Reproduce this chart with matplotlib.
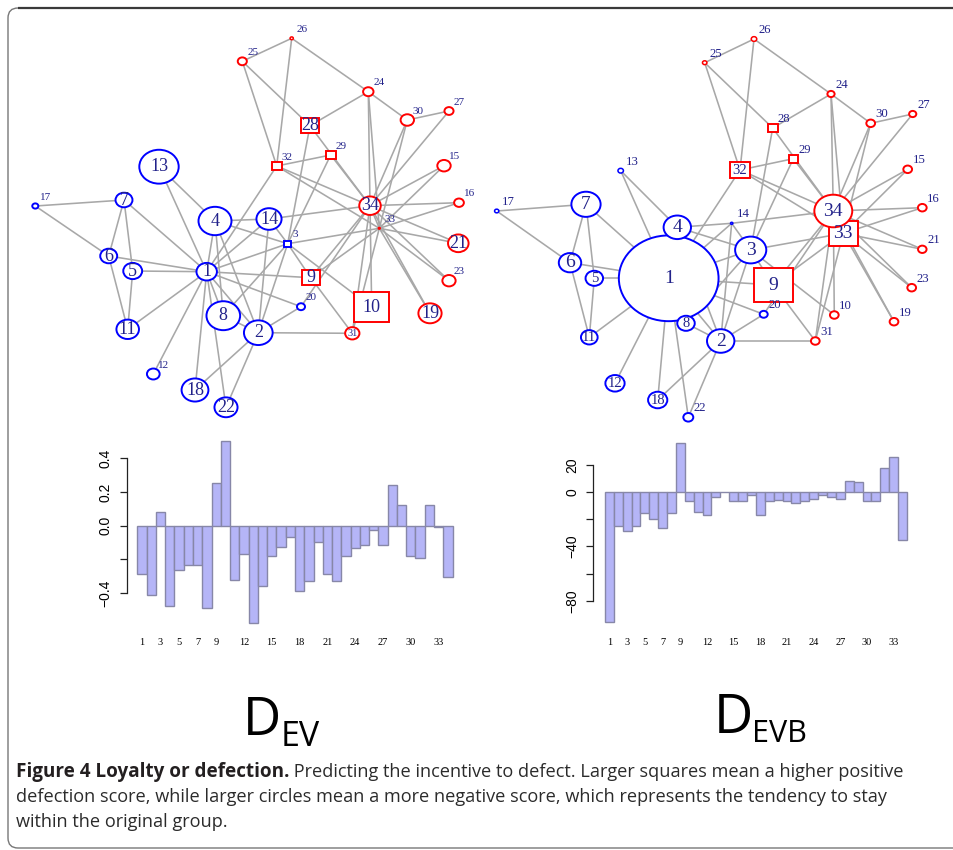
import matplotlib
matplotlib.use("Agg")
import matplotlib.pyplot as plt
from matplotlib.patches import Ellipse, Rectangle, FancyBboxPatch

# Zachary karate club, 34 members
nodes = list(range(1, 35))

edges = [(1, 2), (1, 3), (1, 4), (1, 5), (1, 6), (1, 7), (1, 8), (1, 9), (1, 11), (1, 12),
         (1, 13), (1, 14), (1, 18), (1, 20), (1, 22), (1, 32),
         (2, 3), (2, 4), (2, 8), (2, 14), (2, 18), (2, 20), (2, 22), (2, 31),
         (3, 4), (3, 8), (3, 9), (3, 10), (3, 14), (3, 28), (3, 29), (3, 33),
         (4, 8), (4, 13), (4, 14), (5, 7), (5, 11), (6, 7), (6, 11), (6, 17), (7, 17),
         (9, 31), (9, 33), (9, 34), (10, 34), (14, 34), (15, 33), (15, 34), (16, 33), (16, 34),
         (19, 33), (19, 34), (20, 34), (21, 33), (21, 34), (23, 33), (23, 34),
         (24, 26), (24, 28), (24, 30), (24, 33), (24, 34), (25, 26), (25, 28), (25, 32),
         (26, 32), (27, 30), (27, 34), (28, 34), (29, 32), (29, 34), (30, 33), (30, 34),
         (31, 33), (31, 34), (32, 33), (32, 34), (33, 34)]

original_group_1 = [1, 2, 3, 4, 5, 6, 7, 8, 11, 12, 13, 14, 17, 18, 20, 22]

# defection scores
d_ev = [-0.287, -0.412, 0.083, -0.477, -0.263, -0.234, -0.234, -0.487, 0.251, 0.499,
        -0.319, -0.170, -0.574, -0.358, -0.180, -0.125, -0.069, -0.384, -0.329, -0.099,
        -0.289, -0.327, -0.178, -0.135, -0.115, -0.026, -0.115, 0.242, 0.123, -0.180,
        -0.194, 0.123, -0.006, -0.303]

d_evb = [-95.8, -24.9, -28.6, -24.9, -15.2, -20.0, -26.7, -15.2, 36.2, -6.6,
         -14.4, -16.9, -3.4, -0.3, -6.6, -6.6, -2.2, -16.9, -6.6, -5.9,
         -6.4, -7.8, -6.6, -5.1, -2.4, -3.4, -5.1, 8.1, 7.3, -6.6,
         -6.6, 17.4, 25.9, -35.2]

# network layouts (as drawn in the figure)
layout_ev_x = [206.7, 258.3, 287.7, 215.0, 132.7, 108.7, 124.0, 223.3, 310.7, 371.7,
               127.7, 153.3, 159.0, 269.0, 444.0, 459.0, 35.3, 195.0, 430.0, 301.0,
               458.3, 226.0, 449.0, 368.3, 242.3, 291.7, 449.0, 310.0, 330.7, 407.3,
               352.3, 276.7, 379.3, 370.0]
layout_ev_y = [271.7, 332.7, 243.7, 221.0, 271.0, 256.0, 200.0, 315.7, 277.7, 307.3,
               329.3, 374.0, 166.7, 219.0, 165.7, 202.7, 206.0, 390.0, 313.3, 306.7,
               243.3, 407.3, 280.7, 91.7, 61.3, 38.3, 111.0, 125.7, 155.0, 120.0,
               333.3, 166.0, 228.3, 205.7]

layout_evb_x = [668.7, 720.7, 750.7, 677.3, 594.3, 570.0, 586.0, 686.0, 773.3, 834.3,
                589.3, 615.0, 620.7, 731.7, 907.7, 922.3, 496.7, 657.7, 894.0, 763.7,
                922.3, 688.3, 911.7, 831.0, 704.7, 754.0, 912.7, 772.7, 793.3, 870.7,
                815.3, 740.0, 843.3, 833.3]
layout_evb_y = [278.3, 341.0, 250.0, 227.3, 278.3, 262.7, 204.3, 323.3, 285.0, 315.0,
                337.3, 383.3, 170.7, 223.3, 169.3, 207.7, 211.0, 400.0, 321.7, 314.3,
                249.3, 417.3, 287.7, 94.0, 62.7, 39.0, 114.0, 128.0, 158.7, 123.3,
                341.0, 170.0, 233.3, 211.0]

bar_tick_labels = [1, 3, 5, 7, 9, 12, 15, 18, 21, 24, 27, 30, 33]

caption_bold = "Figure 4 Loyalty or defection."
caption_lines = [" Predicting the incentive to defect. Larger squares mean a higher positive",
                 "defection score, while larger circles mean a more negative score, which represents the tendency to stay",
                 "within the original group."]

W, H = 954, 850
fig = plt.figure(figsize=(W / 100, H / 100), dpi=100)
bg = fig.add_axes([0, 0, 1, 1])
bg.set_xlim(0, W)
bg.set_ylim(H, 0)
bg.axis("off")

# frame
bg.add_patch(FancyBboxPatch((8, 8), 1000, 840, boxstyle="round,pad=0,rounding_size=10",
                            fc="none", ec="#777777", lw=1.0))
bg.plot([18, W], [8, 8], color="#3a3a3a", lw=1.6, solid_capstyle="butt")

BLUE, RED = "#0000ff", "#ff0000"
LABEL = "#22228a"


def draw_network(xs, ys, scores, scale, pad, inside_min, big_min, big_fs, small_fs, off_fs):
    for a, b in edges:
        bg.plot([xs[a - 1], xs[b - 1]], [ys[a - 1], ys[b - 1]],
                color="#a8a8a8", lw=1.15, zorder=1, solid_capstyle="butt")
    for n, x, y, s in zip(nodes, xs, ys, scores):
        w = scale * abs(s) + pad
        h = 0.86 * w
        col = BLUE if n in original_group_1 else RED
        lw = 1.4 if w > 6 else 1.1
        if s > 0:
            p = Rectangle((x - w / 2, y - h / 2), w, h, fc="white", ec=col, lw=lw, zorder=2)
        else:
            p = Ellipse((x, y), w, h, fc="white", ec=col, lw=lw, zorder=2)
        bg.add_patch(p)
        if w >= inside_min:
            fs = big_fs if w >= big_min else small_fs
            bg.text(x, y, str(n), ha="center", va="center", fontsize=fs,
                    family="Liberation Serif", color=LABEL, zorder=3)
        else:
            bg.text(x + 5, y - 9, str(n), ha="left", va="center", fontsize=off_fs,
                    family="Liberation Serif", color=LABEL, zorder=3)


draw_network(layout_ev_x, layout_ev_y, d_ev, 66, 1.5, 14, 16, 13, 7.5, 8)
draw_network(layout_evb_x, layout_evb_y, d_evb, 1.02, 2, 15, 21, 14, 10.5, 9.2)


def px_axes(x0, y0, x1, y1):
    return fig.add_axes([x0 / W, 1 - y1 / H, (x1 - x0) / W, (y1 - y0) / H])


def draw_bars(ax, vals, xlim, ylim, yticks, ylabels):
    idx = list(range(1, len(vals) + 1))
    ax.bar(idx, vals, width=1.0, color="#b5b5f7", edgecolor="#8787a8", lw=1.0)
    ax.set_xlim(*xlim)
    ax.set_ylim(*ylim)
    for sp in ["top", "right", "bottom"]:
        ax.spines[sp].set_visible(False)
    ax.spines["left"].set_bounds(min(yticks), max(yticks))
    ax.spines["left"].set_linewidth(0.9)
    ax.spines["left"].set_color("#222222")
    ax.set_yticks(yticks)
    ax.set_yticklabels(ylabels, rotation=90, va="center", family="Liberation Sans", fontsize=10)
    ax.tick_params(axis="y", length=5, width=0.9, pad=5, color="#222222")
    ax.set_xticks(bar_tick_labels)
    ax.set_xticklabels([str(t) for t in bar_tick_labels], family="Liberation Serif", fontsize=7.5)
    ax.tick_params(axis="x", length=0, pad=9)
    ax.patch.set_alpha(0)


ax1 = px_axes(126.7, 439.6, 460, 625.3)
draw_bars(ax1, d_ev, (-0.65, 35.3), (-0.59, 0.51),
          [-0.4, -0.2, 0.0, 0.2, 0.4], ["\u22120.4", "", "0.0", "0.2", "0.4"])

ax2 = px_axes(593.3, 439.6, 915, 625.3)
draw_bars(ax2, d_evb, (-0.8, 35.4), (-98.0, 38.5),
          [-80, -60, -40, -20, 0, 20], ["\u221280", "", "\u221240", "", "0", "20"])

renderer = fig.canvas.get_renderer()


def right_edge(t):
    bb = t.get_window_extent(renderer)
    return bg.transData.inverted().transform((bb.x1, 0))[0]


# big panel labels
d1 = bg.text(243, 735, "D", fontsize=38, family="Open Sans", ha="left", va="baseline", color="black")
bg.text(right_edge(d1) - 1, 746, "EV", fontsize=24.5, family="Open Sans",
        ha="left", va="baseline", color="black")
d2 = bg.text(714, 733, "D", fontsize=39, family="Open Sans", ha="left", va="baseline", color="black")
bg.text(right_edge(d2) - 1, 742, "EVB", fontsize=22, family="Open Sans",
        ha="left", va="baseline", color="black")

# caption
cap_fs = 13.1
tb = bg.text(16, 777, caption_bold, fontsize=13.6, family="Open Sans", weight="bold",
             ha="left", va="baseline", color="#231f20")
bg.text(right_edge(tb), 777, caption_lines[0], fontsize=cap_fs, family="Open Sans",
        ha="left", va="baseline", color="#2b2b2b")
bg.text(16, 802, caption_lines[1], fontsize=cap_fs, family="Open Sans",
        ha="left", va="baseline", color="#2b2b2b")
bg.text(16, 827, caption_lines[2], fontsize=cap_fs, family="Open Sans",
        ha="left", va="baseline", color="#2b2b2b")

fig.savefig("out.png", dpi=100)
